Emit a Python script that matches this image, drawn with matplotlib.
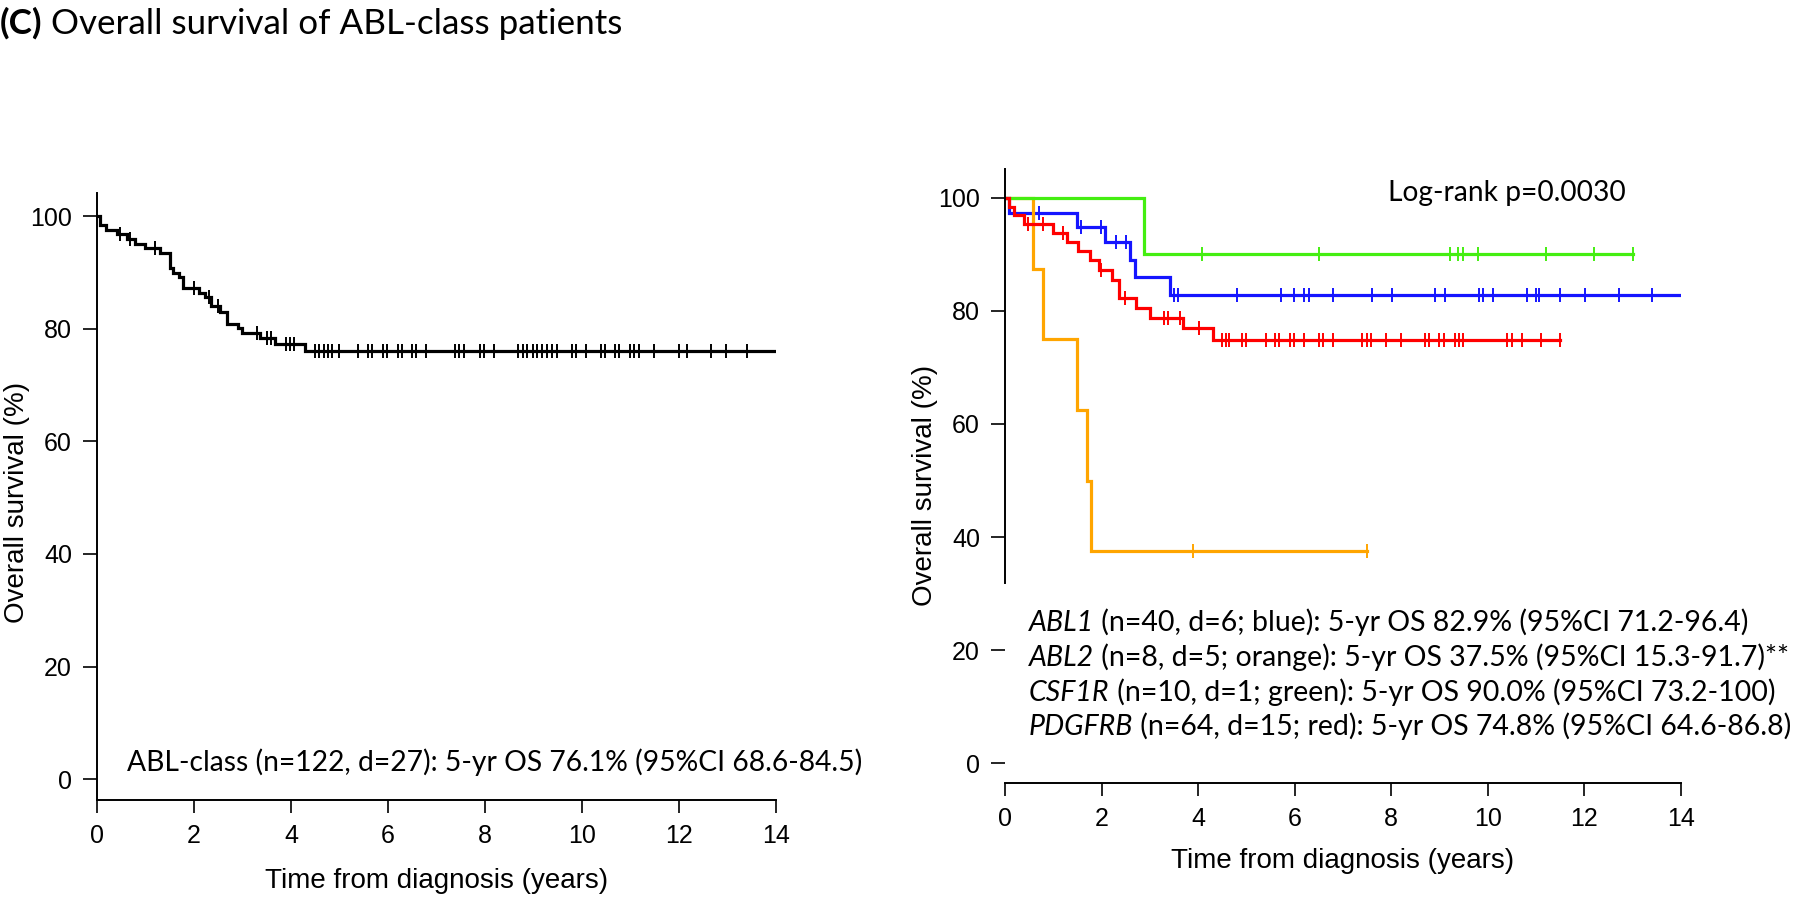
import numpy as np
import matplotlib.pyplot as plt
from matplotlib.text import Annotation
from matplotlib.transforms import Bbox

# ---- data ----
# left panel: ABL-class overall survival (step times in years, survival %)
abl_t = [0, 0.06, 0.19, 0.41, 0.61, 0.78, 0.99, 1.30, 1.51, 1.57, 1.70, 1.78, 2.11,
         2.23, 2.36, 2.54, 2.67, 2.91, 2.98, 3.37, 3.67, 4.29, 13.98]
abl_s = [100, 98.4, 97.5, 96.9, 96.0, 95.1, 94.3, 93.5, 90.7, 89.9, 89.1, 87.3, 86.4,
         85.7, 84.0, 83.0, 80.9, 80.1, 79.2, 78.3, 77.3, 76.1, 76.1]
abl_cens = [0.47, 0.68, 1.20, 1.99, 2.30, 2.50, 3.29, 3.50, 3.58, 3.90, 3.98, 4.06,
            4.49, 4.58, 4.67, 4.76, 4.84, 4.98, 5.39, 5.59, 5.68, 5.89, 5.97, 6.21,
            6.28, 6.49, 6.58, 6.78, 7.38, 7.47, 7.57, 7.90, 7.98, 8.19, 8.69, 8.78,
            8.87, 8.98, 9.08, 9.18, 9.28, 9.39, 9.48, 9.79, 9.88, 10.08, 10.39, 10.47,
            10.68, 10.77, 10.99, 11.08, 11.17, 11.48, 11.99, 12.17, 12.67, 12.97, 13.40]

# right panel: by gene
abl1_t = [0, 0.09, 1.50, 2.07, 2.59, 2.69, 3.42, 14.0]
abl1_s = [100, 97.4, 94.9, 92.1, 89.0, 86.0, 82.9, 82.9]
abl1_cens = [0.71, 1.57, 1.99, 2.30, 2.51, 3.50, 3.59, 4.80, 5.71, 5.99, 6.20, 6.30,
             6.80, 7.60, 8.01, 8.90, 9.11, 9.81, 9.89, 10.10, 10.81, 10.99, 11.06,
             11.49, 12.01, 12.71, 13.40]

abl2_t = [0, 0.59, 0.79, 1.50, 1.70, 1.79, 7.50]
abl2_s = [100, 87.5, 75.0, 62.5, 50.0, 37.5, 37.5]
abl2_cens = [3.90, 7.50]

csf1r_t = [0, 2.88, 13.0]
csf1r_s = [100, 90.0, 90.0]
csf1r_cens = [4.09, 6.51, 9.21, 9.39, 9.49, 9.80, 11.20, 12.20, 13.0]

pdgfrb_t = [0, 0.09, 0.19, 0.39, 1.00, 1.28, 1.52, 1.76, 1.95, 2.21, 2.37, 2.71,
            3.00, 3.69, 4.31, 11.49]
pdgfrb_s = [100, 98.4, 96.9, 95.3, 93.8, 92.2, 90.6, 89.0, 87.3, 85.5, 82.2, 80.5,
            78.7, 77.0, 74.8, 74.8]
pdgfrb_cens = [0.48, 0.79, 1.21, 1.98, 2.48, 3.30, 3.38, 3.62, 4.02, 4.50, 4.58,
               4.64, 4.90, 5.00, 5.40, 5.59, 5.68, 5.90, 5.98, 6.19, 6.51, 6.58,
               6.80, 7.40, 7.49, 7.59, 7.90, 8.20, 8.70, 8.79, 8.99, 9.09, 9.32,
               9.41, 9.49, 10.40, 10.49, 10.70, 11.10, 11.49]

x_ticks = [0, 2, 4, 6, 8, 10, 12, 14]
y_ticks = [0, 20, 40, 60, 80, 100]

legend_genes = ["ABL1", "ABL2", "CSF1R", "PDGFRB"]
legend_rest = [" (n=40, d=6; blue): 5-yr OS 82.9% (95%CI 71.2-96.4)",
               " (n=8, d=5; orange): 5-yr OS 37.5% (95%CI 15.3-91.7)**",
               " (n=10, d=1; green): 5-yr OS 90.0% (95%CI 73.2-100)",
               " (n=64, d=15; red): 5-yr OS 74.8% (95%CI 64.6-86.8)"]

plt.rcParams["font.family"] = ["Liberation Sans", "DejaVu Sans"]
NOTE_FONT = "Lato"


def km_value(times, surv, t):
    i = np.searchsorted(times, t, side="right") - 1
    return np.asarray(surv)[i]


def km_plot(ax, times, surv, cens, color):
    ax.step(times, surv, where="post", color=color, lw=2.3, solid_joinstyle="miter")
    ax.plot(cens, [km_value(times, surv, c) for c in cens], ls="none", marker="|",
            ms=10, mew=1.4, color=color)


def style_axis(ax, ylo, yhi):
    ax.set_xlim(0, 14)
    ax.set_ylim(ylo, yhi)
    ax.set_xticks(x_ticks)
    ax.set_yticks(y_ticks)
    for s in ["top", "right"]:
        ax.spines[s].set_visible(False)
    for s in ["left", "bottom"]:
        ax.spines[s].set_linewidth(1.4)
    ax.tick_params(axis="both", labelsize=18, width=1.2, pad=8)
    ax.tick_params(axis="y", length=10)
    ax.tick_params(axis="x", length=9)
    ax.set_xlabel("Time from diagnosis (years)", fontsize=20)
    ax.set_ylabel("Overall survival (%)", fontsize=20)


fig = plt.figure(figsize=(18, 8.97), dpi=100)

# left panel
ax1 = fig.add_axes([0.0539, 0.1081, 0.3772, 0.6767])
style_axis(ax1, -3.7, 104.1)
km_plot(ax1, abl_t, abl_s, abl_cens, "black")
note_left = ax1.text(0.62, 3.0, "ABL-class (n=122, d=27): 5-yr OS 76.1% (95%CI 68.6-84.5)",
                     fontsize=18, family=NOTE_FONT, va="center", ha="left")
ax1.yaxis.set_label_coords(-0.099, 0.49)
ax1.xaxis.set_label_coords(0.5, -0.112)

# right panel
ax2 = fig.add_axes([0.5583, 0.1271, 0.3756, 0.6845])
style_axis(ax2, -3.5, 105.1)
ax2.spines["left"].set_bounds(31.9, 105.1)
km_plot(ax2, abl1_t, abl1_s, abl1_cens, "#1515ff")
km_plot(ax2, abl2_t, abl2_s, abl2_cens, "#ffa500")
km_plot(ax2, csf1r_t, csf1r_s, csf1r_cens, "#44ee11")
km_plot(ax2, pdgfrb_t, pdgfrb_s, pdgfrb_cens, "#ff0000")
ax2.yaxis.set_label_coords(-0.099, 0.485)
ax2.xaxis.set_label_coords(0.5, -0.106)

logrank = ax2.text(7.93, 100.9, "Log-rank p=0.0030", fontsize=18, family=NOTE_FONT,
                   va="center", ha="left")

y_rows = [24.8, 18.6, 12.4, 6.4]
rows = []
for gene, rest, yy in zip(legend_genes, legend_rest, y_rows):
    t1 = ax2.text(0.50, yy, gene, fontsize=18, family=NOTE_FONT, style="italic",
                  va="center", ha="left")
    t2 = ax2.annotate(rest, xy=(1, 0), xycoords=t1, va="bottom", ha="left",
                      fontsize=18, family=NOTE_FONT, annotation_clip=False)
    rows.append((t1, t2))

# panel title
t_c = fig.text(0.0, 0.974, "(C)", fontsize=22, family=NOTE_FONT, weight="bold",
               va="center", ha="left")
t_rest = Annotation(" Overall survival of ABL-class patients", xy=(1, 0), xycoords=t_c,
                    va="bottom", ha="left", fontsize=22, family=NOTE_FONT)
fig.add_artist(t_rest)

# scale the note fonts so their widths match the reference (pixels)
fig.canvas.draw()
renderer = fig.canvas.get_renderer()


def fit_width(group, target, also=()):
    bb = Bbox.union([t.get_window_extent(renderer) for t in group])
    k = target / bb.width
    for t in list(group) + list(also):
        t.set_fontsize(t.get_fontsize() * k)


fit_width([t_c, t_rest], 620)
fit_width([note_left], 734)
fit_width([logrank], 237)
fit_width(list(rows[0]), 720, also=[t for r in rows[1:] for t in r])

fig.savefig("out.png", dpi=100)
